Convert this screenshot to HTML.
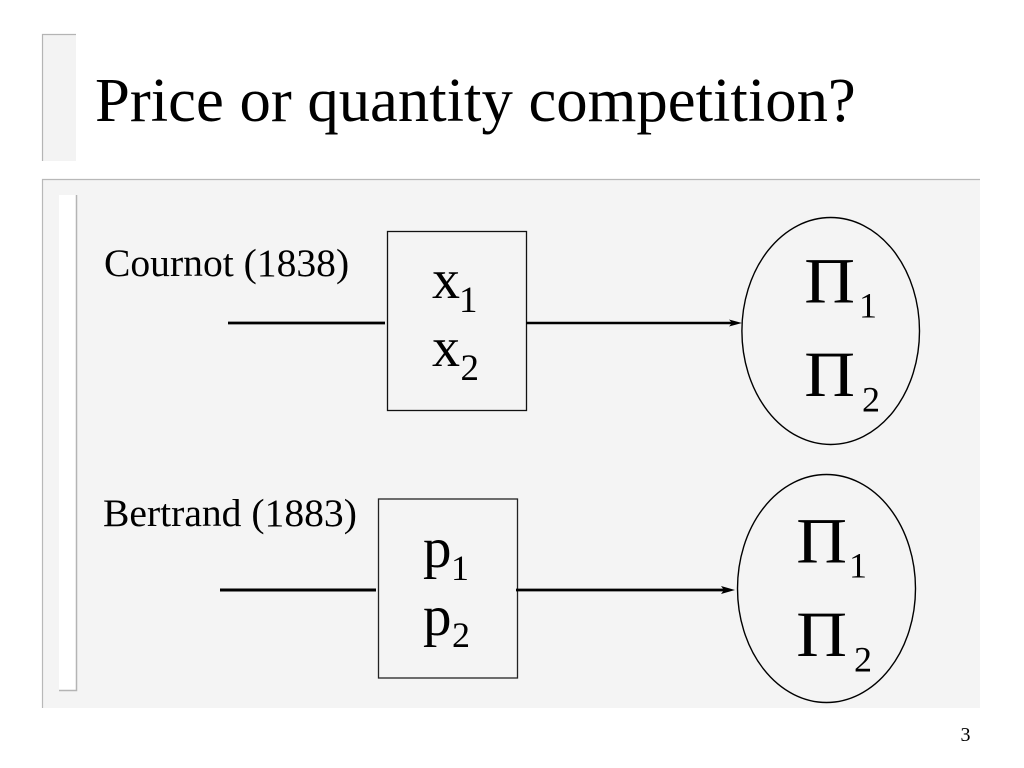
<!DOCTYPE html>
<html>
<head>
<meta charset="utf-8">
<style>
html,body{margin:0;padding:0;background:#fff;}
svg{display:block;}
text{font-family:"Liberation Serif",serif;fill:#000;}
</style>
</head>
<body>
<svg width="1024" height="768" viewBox="0 0 1024 768" xmlns="http://www.w3.org/2000/svg">
<rect width="1024" height="768" fill="#fff"/>
<!-- title tab -->
<rect x="42" y="34" width="34" height="127" fill="#f3f3f3"/>
<path d="M42.5 161V34.5H76" fill="none" stroke="#b4b4b4" stroke-width="1.2"/>
<!-- body panel -->
<rect x="42" y="179" width="938" height="529" fill="#f4f4f4"/>
<path d="M42.5 708V179.5H980" fill="none" stroke="#b8b8b8" stroke-width="1.2"/>
<!-- white strip -->
<rect x="59" y="195" width="18" height="496" fill="#fff"/>
<path d="M76.5 195V690.5H59" fill="none" stroke="#b4b4b4" stroke-width="1.5"/>
<!-- title -->
<text x="95" y="121" font-size="62.7">Price or quantity competition?</text>
<!-- labels -->
<text x="104" y="276" font-size="39.6">Cournot (1838)</text>
<text x="103" y="526" font-size="39.6">Bertrand (1883)</text>
<!-- top row -->
<line x1="228" y1="323" x2="385" y2="323" stroke="#000" stroke-width="2.8"/>
<rect x="387.5" y="231.5" width="139" height="179" fill="none" stroke="#111" stroke-width="1.3"/>
<line x1="526" y1="323" x2="735" y2="323" stroke="#000" stroke-width="2.4"/>
<polygon points="742,323 729,319.5 732,323 729,326.5" fill="#000"/>
<ellipse cx="830.7" cy="331" rx="88.8" ry="113.5" fill="none" stroke="#000" stroke-width="1.4"/>
<text x="432" y="298" font-size="56">x</text>
<text x="459" y="312" font-size="37">1</text>
<text x="432" y="366" font-size="56">x</text>
<text x="460.500" y="380" font-size="37">2</text>
<text transform="translate(804.2 302.7) scale(1.09 1)" font-size="64.5">Π</text>
<text x="859" y="317.7" font-size="36">1</text>
<text transform="translate(804.2 396) scale(1.09 1)" font-size="64.5">Π</text>
<text x="862" y="411.7" font-size="36">2</text>
<!-- bottom row -->
<line x1="220" y1="590" x2="376" y2="590" stroke="#000" stroke-width="3"/>
<rect x="378.5" y="499" width="139" height="179" fill="none" stroke="#222" stroke-width="1.3"/>
<line x1="516" y1="590" x2="728" y2="590" stroke="#000" stroke-width="2.8"/>
<polygon points="735,590 721,586 724,590 721,594" fill="#000"/>
<ellipse cx="826.5" cy="588.5" rx="89" ry="114" fill="none" stroke="#000" stroke-width="1.4"/>
<text x="423" y="567" font-size="57">p</text>
<text x="451" y="580" font-size="36">1</text>
<text x="423" y="635" font-size="57">p</text>
<text x="452" y="647" font-size="36">2</text>
<text transform="translate(796.2 562.7) scale(1.09 1)" font-size="64.5">Π</text>
<text x="849" y="577.7" font-size="36">1</text>
<text transform="translate(796.2 656) scale(1.09 1)" font-size="64.5">Π</text>
<text x="854" y="671.5" font-size="36">2</text>
<!-- page number -->
<text x="960.5" y="741" font-size="20">3</text>
</svg>
</body>
</html>
